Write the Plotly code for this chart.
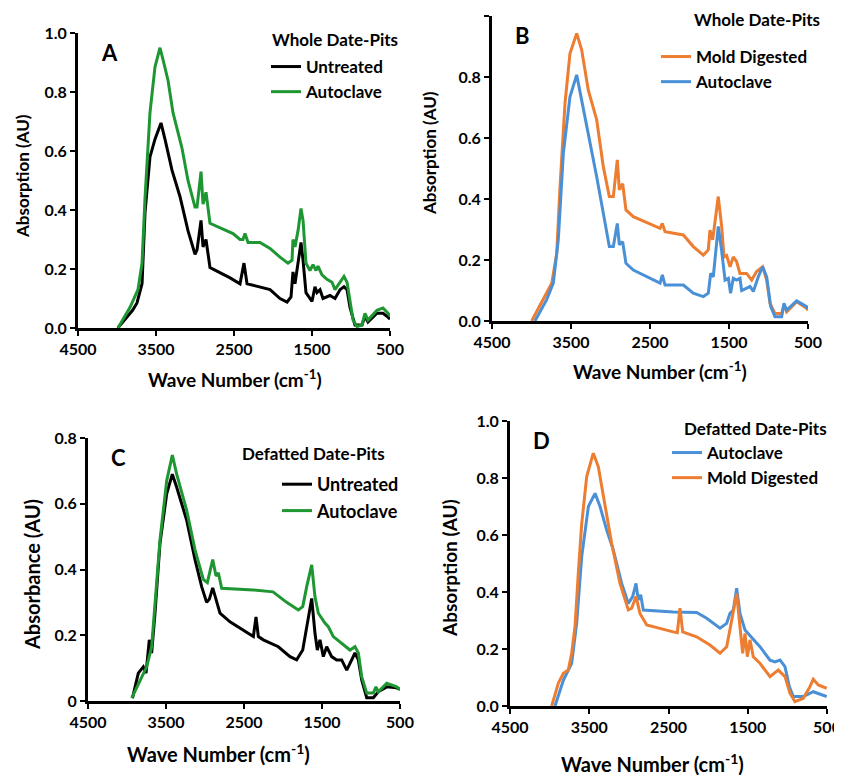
import plotly.graph_objects as go

# ---------------- DATA ----------------
# Panel A (Whole Date-Pits)
a_unt_x = [3990, 3900, 3800, 3744, 3679, 3641, 3577, 3513, 3436, 3385, 3295, 3192, 3090, 3000, 2974, 2923, 2897, 2859, 2808, 2700, 2550, 2423, 2372, 2333, 2167, 2038, 1910, 1820, 1769, 1744, 1718, 1679, 1641, 1615, 1577, 1551, 1500, 1462, 1436, 1397, 1359, 1269, 1205, 1141, 1090, 1051, 1013, 949, 859, 821, 782, 667, 590, 526, 500]
a_unt_y = [0.0, 0.03, 0.06, 0.085, 0.15, 0.39, 0.58, 0.64, 0.695, 0.64, 0.535, 0.445, 0.33, 0.25, 0.265, 0.365, 0.275, 0.3, 0.205, 0.19, 0.17, 0.15, 0.22, 0.15, 0.14, 0.13, 0.1, 0.088, 0.105, 0.19, 0.15, 0.23, 0.29, 0.23, 0.12, 0.11, 0.09, 0.14, 0.12, 0.13, 0.1, 0.11, 0.1, 0.13, 0.14, 0.13, 0.07, 0.01, 0.01, 0.04, 0.02, 0.05, 0.05, 0.037, 0.03]
a_auto_x = [3987, 3900, 3833, 3731, 3679, 3641, 3577, 3513, 3449, 3410, 3346, 3282, 3167, 3090, 3000, 2974, 2923, 2897, 2859, 2808, 2650, 2513, 2423, 2385, 2359, 2320, 2167, 2038, 1910, 1808, 1756, 1744, 1718, 1679, 1641, 1615, 1577, 1526, 1487, 1449, 1423, 1372, 1308, 1244, 1205, 1141, 1090, 1051, 1013, 974, 923, 859, 821, 782, 667, 590, 526, 500]
a_auto_y = [0.0, 0.04, 0.07, 0.13, 0.22, 0.44, 0.73, 0.885, 0.95, 0.91, 0.84, 0.73, 0.61, 0.5, 0.41, 0.41, 0.53, 0.42, 0.46, 0.355, 0.335, 0.32, 0.3, 0.3, 0.32, 0.29, 0.29, 0.27, 0.24, 0.22, 0.23, 0.3, 0.275, 0.33, 0.405, 0.365, 0.22, 0.195, 0.215, 0.195, 0.21, 0.18, 0.165, 0.155, 0.13, 0.155, 0.175, 0.155, 0.085, 0.027, 0.005, 0.01, 0.05, 0.027, 0.06, 0.068, 0.05, 0.04]

# Panel B (Whole Date-Pits)
b_mold_x = [3998, 3850, 3744, 3681, 3639, 3576, 3513, 3428, 3365, 3281, 3175, 3091, 3015, 2964, 2914, 2888, 2846, 2804, 2711, 2373, 2344, 2310, 2078, 1952, 1825, 1762, 1741, 1707, 1636, 1593, 1563, 1530, 1487, 1446, 1404, 1361, 1277, 1213, 1150, 1074, 1023, 981, 918, 833, 804, 770, 643, 517, 500]
b_mold_y = [0.0, 0.07, 0.124, 0.22, 0.44, 0.714, 0.877, 0.943, 0.889, 0.757, 0.66, 0.506, 0.408, 0.408, 0.528, 0.43, 0.45, 0.364, 0.342, 0.304, 0.32, 0.293, 0.282, 0.244, 0.216, 0.233, 0.298, 0.266, 0.408, 0.31, 0.21, 0.215, 0.178, 0.21, 0.195, 0.156, 0.156, 0.134, 0.162, 0.178, 0.134, 0.058, 0.025, 0.025, 0.052, 0.03, 0.063, 0.042, 0.035]
b_auto_x = [3956, 3808, 3724, 3661, 3597, 3513, 3428, 3365, 3281, 3175, 3091, 3015, 2964, 2914, 2888, 2846, 2804, 2711, 2373, 2344, 2310, 2078, 1952, 1825, 1762, 1732, 1699, 1636, 1593, 1550, 1508, 1480, 1446, 1404, 1361, 1340, 1234, 1192, 1129, 1074, 1023, 972, 918, 833, 804, 770, 643, 517, 500]
b_auto_y = [0.0, 0.07, 0.124, 0.266, 0.55, 0.735, 0.807, 0.725, 0.604, 0.473, 0.353, 0.244, 0.244, 0.32, 0.25, 0.26, 0.189, 0.167, 0.124, 0.151, 0.118, 0.118, 0.091, 0.08, 0.091, 0.156, 0.145, 0.31, 0.23, 0.134, 0.14, 0.091, 0.14, 0.134, 0.14, 0.1, 0.113, 0.097, 0.145, 0.178, 0.145, 0.047, 0.014, 0.014, 0.058, 0.036, 0.066, 0.047, 0.04]

# Panel C (Defatted Date-Pits)
c_unt_x = [3930, 3855, 3791, 3756, 3714, 3684, 3641, 3577, 3491, 3419, 3363, 3235, 3128, 3043, 2979, 2944, 2901, 2850, 2808, 2680, 2380, 2346, 2316, 2252, 2060, 1910, 1825, 1747, 1696, 1632, 1590, 1560, 1526, 1483, 1440, 1376, 1312, 1248, 1183, 1077, 1034, 991, 927, 842, 778, 670, 542, 500]
c_unt_y = [0.009, 0.085, 0.104, 0.085, 0.186, 0.146, 0.267, 0.48, 0.63, 0.69, 0.65, 0.55, 0.43, 0.348, 0.3, 0.31, 0.344, 0.297, 0.267, 0.241, 0.196, 0.256, 0.196, 0.186, 0.165, 0.135, 0.125, 0.155, 0.226, 0.312, 0.206, 0.155, 0.186, 0.135, 0.165, 0.135, 0.125, 0.125, 0.094, 0.146, 0.125, 0.064, 0.01, 0.01, 0.028, 0.043, 0.04, 0.035]
c_auto_x = [3940, 3833, 3748, 3684, 3641, 3577, 3491, 3419, 3363, 3235, 3128, 3022, 2970, 2901, 2859, 2829, 2786, 2380, 2128, 1953, 1804, 1747, 1696, 1632, 1590, 1547, 1462, 1419, 1355, 1248, 1141, 1077, 1034, 991, 927, 842, 808, 778, 670, 542, 500]
c_auto_y = [0.009, 0.064, 0.104, 0.165, 0.287, 0.49, 0.67, 0.748, 0.69, 0.58, 0.46, 0.37, 0.36, 0.43, 0.38, 0.39, 0.343, 0.338, 0.332, 0.3, 0.277, 0.287, 0.348, 0.414, 0.317, 0.267, 0.237, 0.226, 0.196, 0.176, 0.155, 0.165, 0.146, 0.074, 0.024, 0.024, 0.043, 0.028, 0.054, 0.043, 0.035]

# Panel D (Defatted Date-Pits)
d_auto_x = [3932, 3827, 3722, 3659, 3595, 3511, 3427, 3364, 3280, 3196, 3091, 3007, 2952, 2910, 2881, 2851, 2818, 2440, 2145, 2018, 1850, 1766, 1724, 1682, 1640, 1598, 1535, 1430, 1346, 1219, 1156, 1093, 1030, 976, 925, 799, 673, 504]
d_auto_y = [0.0, 0.09, 0.15, 0.29, 0.524, 0.7, 0.746, 0.7, 0.617, 0.547, 0.43, 0.36, 0.384, 0.43, 0.372, 0.39, 0.337, 0.33, 0.328, 0.308, 0.273, 0.29, 0.325, 0.337, 0.413, 0.325, 0.267, 0.232, 0.208, 0.161, 0.155, 0.161, 0.138, 0.068, 0.033, 0.033, 0.05, 0.033]
d_mold_x = [3974, 3890, 3827, 3764, 3722, 3680, 3638, 3595, 3532, 3449, 3386, 3301, 3217, 3112, 3007, 2965, 2910, 2860, 2775, 2440, 2389, 2355, 2321, 2145, 1977, 1850, 1766, 1703, 1640, 1598, 1564, 1535, 1505, 1472, 1430, 1346, 1219, 1115, 1030, 967, 904, 799, 715, 673, 610, 504]
d_mold_y = [0.0, 0.08, 0.115, 0.126, 0.185, 0.278, 0.466, 0.64, 0.805, 0.887, 0.84, 0.7, 0.57, 0.43, 0.337, 0.343, 0.384, 0.325, 0.284, 0.26, 0.257, 0.343, 0.26, 0.243, 0.214, 0.185, 0.208, 0.3, 0.395, 0.278, 0.185, 0.255, 0.173, 0.232, 0.173, 0.15, 0.103, 0.126, 0.103, 0.045, 0.015, 0.027, 0.068, 0.094, 0.074, 0.062]

x_ticks = [4500, 3500, 2500, 1500, 500]
legend_titles = ["Whole Date-Pits", "Whole Date-Pits", "Defatted Date-Pits", "Defatted Date-Pits"]
panel_letters = ["A", "B", "C", "D"]
x_title = "Wave Number (cm<sup>-1</sup>)"
y_titles = ["Absorption (AU)", "Absorption (AU)", "Absorbance (AU)", "Absorption (AU)"]

BLACK = "#000000"
GREEN = "#1E9632"
ORANGE = "#ED7D31"
BLUE = "#4A90D6"
FONT = "Lato"

fig = go.Figure()

def add(x, y, name, color, n):
    xa = "x" if n == 1 else f"x{n}"
    ya = "y" if n == 1 else f"y{n}"
    lg = "legend" if n == 1 else f"legend{n}"
    fig.add_trace(go.Scatter(x=x, y=y, name=name, mode="lines",
                             line=dict(color=color, width=3),
                             xaxis=xa, yaxis=ya, legend=lg))

add(a_unt_x, a_unt_y, "Untreated", BLACK, 1)
add(a_auto_x, a_auto_y, "Autoclave", GREEN, 1)
add(b_mold_x, b_mold_y, "Mold Digested", ORANGE, 2)
add(b_auto_x, b_auto_y, "Autoclave", BLUE, 2)
add(c_unt_x, c_unt_y, "Untreated", BLACK, 3)
add(c_auto_x, c_auto_y, "Autoclave", GREEN, 3)
add(d_auto_x, d_auto_y, "Autoclave", BLUE, 4)
add(d_mold_x, d_mold_y, "Mold Digested", ORANGE, 4)

# page body has an 8px margin: figure occupies screen (8,8)-(842,775)
OFF = 8
W, H = 842 - OFF, 775 - OFF
def px(x):
    return (x - OFF) / W
def py(y):
    return 1 - (y - OFF) / H

# plot areas in screen pixels: (left, right, top, bottom)
boxes = [(78, 390, 33, 328), (492, 808, 16, 321), (88, 400, 438, 701), (510, 827, 421, 706)]
yranges = [[0, 1.0], [0, 1.0], [0, 0.8], [0, 1.0]]
xt_pos = [(235, 378), (660, 370), (218, 753), (652, 763)]
yt_pos = [(22, 176), (429, 153), (32, 575), (449, 568)]
yt_size = [17, 17, 20, 19]
xt_size = [19, 19, 20, 20]
# legend boxes (screen top-left) and legend titles (left, center y)
legend_pos = [(266, 49), (656, 39), (277, 466), (667, 435)]
legend_font = [17, 17, 18, 17]
ltitle_pos = [(270, 40), (692, 20), (240, 453), (682, 428)]
ltitle_size = [17, 17, 17, 17]

layout = dict(width=W, height=H, margin=dict(l=0, r=0, t=0, b=0),
              paper_bgcolor="white", plot_bgcolor="white",
              font=dict(family=FONT, color="black"),
              annotations=[])

for i, (l, r, t, b) in enumerate(boxes):
    n = i + 1
    xs = "" if n == 1 else str(n)
    ax_common = dict(showline=True, linecolor="black", linewidth=3, ticks="outside",
                     ticklen=5, tickwidth=2, tickcolor="black", showgrid=False, zeroline=False,
                     automargin=False,
                     tickfont=dict(family=FONT, size=16, color="black", weight="bold"))
    yvals = [round(v * 0.2, 1) for v in range(int(yranges[i][1] / 0.2 + 0.01) + 1)]
    if n == 3:
        ytext = ["0" if v == 0 else f"{v:.1f}" for v in yvals]
    else:
        ytext = [f"{v:.1f}" for v in yvals]
    layout["xaxis" + xs] = dict(ax_common, domain=[px(l), px(r)], range=[4500, 500],
                                tickvals=x_ticks, ticktext=[str(v) for v in x_ticks],
                                anchor="y" + xs)
    layout["yaxis" + xs] = dict(ax_common, domain=[py(b), py(t)], range=yranges[i],
                                tickvals=yvals, ticktext=ytext, anchor="x" + xs)
    layout["annotations"].append(dict(text=panel_letters[i], xref="paper", yref="paper",
                                      x=px(l + 21), y=py(t + 4), xanchor="left", yanchor="top",
                                      showarrow=False,
                                      font=dict(family=FONT, size=22, color="black", weight="bold")))
    xx, xy = xt_pos[i]
    layout["annotations"].append(dict(text=x_title, xref="paper", yref="paper",
                                      x=px(xx), y=py(xy), xanchor="center", yanchor="middle",
                                      showarrow=False,
                                      font=dict(family=FONT, size=xt_size[i], color="black", weight="bold")))
    yx, yy = yt_pos[i]
    layout["annotations"].append(dict(text=y_titles[i], xref="paper", yref="paper", textangle=-90,
                                      x=px(yx), y=py(yy), xanchor="center", yanchor="middle",
                                      showarrow=False,
                                      font=dict(family=FONT, size=yt_size[i], color="black", weight="bold")))
    tx, ty = ltitle_pos[i]
    layout["annotations"].append(dict(text=legend_titles[i], xref="paper", yref="paper",
                                      x=px(tx), y=py(ty), xanchor="left", yanchor="middle",
                                      showarrow=False,
                                      font=dict(family=FONT, size=ltitle_size[i], color="black", weight="bold")))

for i, (lx, ly) in enumerate(legend_pos):
    key = "legend" if i == 0 else f"legend{i + 1}"
    layout[key] = dict(x=px(lx), y=py(ly), xanchor="left", yanchor="top",
                       bgcolor="rgba(0,0,0,0)", itemwidth=30, tracegroupgap=0,
                       font=dict(family=FONT, size=legend_font[i], color="black", weight="bold"))

fig.update_layout(**layout)
fig.write_html("out.html")
